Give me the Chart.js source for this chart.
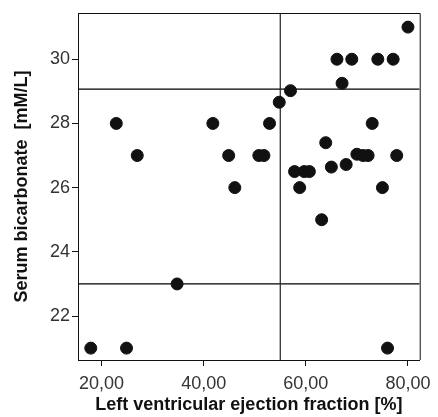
<!DOCTYPE html>
<html>
<head>
<meta charset="utf-8">
<script src="https://cdn.jsdelivr.net/npm/chart.js@4/dist/chart.umd.min.js"></script>
<style>
  html, body { margin: 0; padding: 0; background: #fff; }
  #wrap { width: 438px; height: 417px; }
</style>
</head>
<body>
<div id="wrap"><canvas id="scatterChart" width="438" height="417"></canvas></div>
<script>
// LVEF (%) vs serum bicarbonate (mM/L)
const lvef = [17.9, 22.9, 24.9, 27.0, 34.8, 41.8, 44.9, 46.1, 50.8, 51.8, 52.9, 54.8,
              57.0, 57.8, 58.8, 59.7, 60.7, 63.1, 63.9, 65.0, 66.1, 67.1, 67.9, 69.0,
              70.0, 71.2, 72.2, 73.0, 74.1, 75.0, 76.0, 77.1, 77.8, 80.0];
const bicarb = [21.0, 28.0, 21.0, 27.0, 23.0, 28.0, 27.0, 26.0, 27.0, 27.0, 28.0, 28.66,
                29.02, 26.5, 26.0, 26.5, 26.5, 25.0, 27.4, 26.64, 30.0, 29.25, 26.72, 30.0,
                27.04, 27.0, 27.0, 28.0, 30.0, 26.0, 21.0, 30.0, 27.0, 31.0];

const xTicks = [20, 40, 60, 80];
const yTicks = [22, 24, 26, 28, 30];

// cut-off lines
const cutX = 55;
const cutYLow = 23;
const cutYHigh = 29.07;

const xMin = 15.4, xMax = 82.3;
const yMin = 20.63, yMax = 31.44;

const points = lvef.map((v, i) => ({ x: v, y: bicarb[i] }));

// box round the plot area (top + right edges)
const frame = {
    id: 'frame',
    afterDraw(chart) {
        const a = chart.chartArea;
        const c = chart.ctx;
        c.save();
        c.strokeStyle = '#111';
        c.lineWidth = 1;
        c.beginPath();
        c.moveTo(a.left, a.top + 0.5);
        c.lineTo(a.right + 0.5, a.top + 0.5);
        c.lineTo(a.right + 0.5, a.bottom);
        c.stroke();
        c.restore();
    }
};

const refLine = (data, color) => ({
    type: 'line',
    data: data,
    borderColor: color,
    borderWidth: 1.2,
    pointRadius: 0,
    fill: false,
    order: 2,
});

new Chart(document.getElementById('scatterChart').getContext('2d'), {
    type: 'scatter',
    data: {
        datasets: [
            {
                data: points,
                backgroundColor: '#111',
                borderColor: '#111',
                pointRadius: 6,
                pointHoverRadius: 6,
                order: 1,
            },
            refLine([{ x: cutX, y: yMin }, { x: cutX, y: yMax }], '#222'),
            refLine([{ x: xMin, y: cutYLow }, { x: xMax, y: cutYLow }], '#000'),
            refLine([{ x: xMin, y: cutYHigh }, { x: xMax, y: cutYHigh }], '#000'),
        ],
    },
    options: {
        responsive: false,
        animation: false,
        layout: { padding: { top: 13, right: 15, left: 0, bottom: 0 } },
        plugins: { legend: { display: false }, tooltip: { enabled: false } },
        scales: {
            x: {
                type: 'linear',
                min: xMin,
                max: xMax,
                afterBuildTicks: s => { s.ticks = xTicks.map(v => ({ value: v })); },
                afterFit: s => { s.height = 57; },
                grid: { drawOnChartArea: false, drawTicks: true, tickLength: 6, color: '#111' },
                border: { color: '#111', width: 1 },
                ticks: {
                    color: '#333',
                    padding: 7,
                    font: { family: 'Liberation Sans, Arial, sans-serif', size: 18 },
                    callback: v => v.toFixed(2).replace('.', ','),
                },
                title: {
                    display: true,
                    text: 'Left ventricular ejection fraction [%]',
                    color: '#111',
                    padding: { top: 0, bottom: 1 },
                    font: { family: 'Liberation Sans, Arial, sans-serif', size: 18, weight: 'bold' },
                },
            },
            y: {
                type: 'linear',
                min: yMin,
                max: yMax,
                afterBuildTicks: s => { s.ticks = yTicks.map(v => ({ value: v })); },
                afterFit: s => { s.width = 78; },
                grid: { drawOnChartArea: false, drawTicks: true, tickLength: 6, color: '#111' },
                border: { color: '#111', width: 1 },
                ticks: {
                    color: '#333',
                    padding: 2,
                    font: { family: 'Liberation Sans, Arial, sans-serif', size: 18 },
                    callback: v => String(v),
                },
                title: {
                    display: true,
                    text: 'Serum bicarbonate  [mM/L]',
                    color: '#111',
                    padding: { top: 11, bottom: 0 },
                    font: { family: 'Liberation Sans, Arial, sans-serif', size: 18, weight: 'bold' },
                },
            },
        },
    },
    plugins: [frame],
});
</script>
</body>
</html>
